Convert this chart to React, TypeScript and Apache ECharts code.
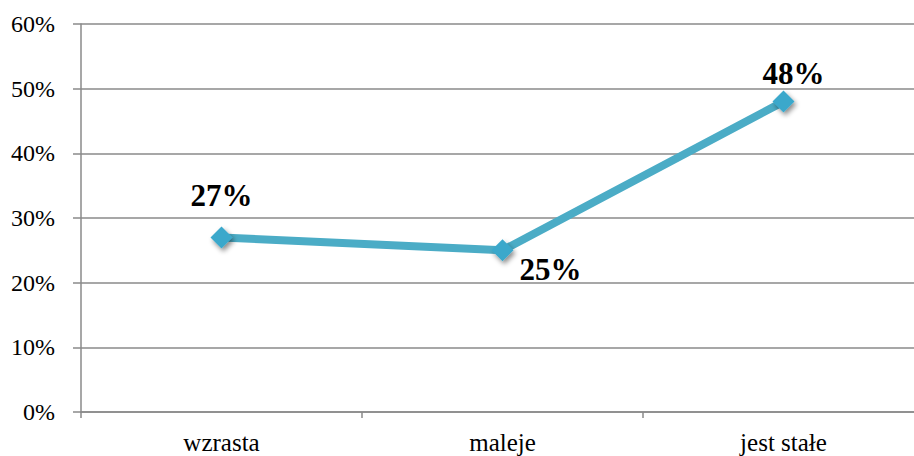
import React, { useEffect, useRef } from "react";
import * as echarts from "echarts";

const categories = ["wzrasta", "maleje", "jest stałe"];
const values = [27, 25, 48];
const labelOffsets: [number, number][] = [[0, -42], [48, 19], [10, -28]];
const yTicks = [0, 10, 20, 30, 40, 50, 60];

export default function App() {
  const ref = useRef<HTMLDivElement>(null);
  useEffect(() => {
    if (!ref.current) return;
    const chart = echarts.init(ref.current, null, { renderer: "svg" });
    const font = "Liberation Serif";
    chart.setOption({
      animation: false,
      grid: { left: 81, right: 0, top: 24, bottom: 44, containLabel: false },
      xAxis: {
        type: "category",
        data: categories,
        boundaryGap: true,
        axisLine: { show: true, lineStyle: { color: "#8a8a8a", width: 1.5 } },
        axisTick: { show: true, length: 6, lineStyle: { color: "#8a8a8a", width: 1.5 } },
        axisLabel: { color: "#000", fontFamily: font, fontSize: 25, margin: 18 },
      },
      yAxis: {
        type: "value",
        min: yTicks[0],
        max: yTicks[yTicks.length - 1],
        interval: 10,
        axisLine: { show: true, lineStyle: { color: "#8a8a8a", width: 1.5 } },
        axisTick: { show: true, length: 8, lineStyle: { color: "#8a8a8a", width: 1.5 } },
        splitLine: { show: true, lineStyle: { color: "#8a8a8a", width: 1.5 } },
        axisLabel: {
          color: "#000",
          fontFamily: font,
          fontSize: 24,
          margin: 26,
          formatter: (v: number) => v + "%",
        },
      },
      series: [
        {
          type: "line",
          data: values.map((v, i) => ({
            value: v,
            label: { offset: labelOffsets[i] },
          })),
          lineStyle: { color: "#4BACC6", width: 8 },
          symbol: "diamond",
          symbolSize: 22,
          itemStyle: {
            color: "#3AA8CB",
            shadowColor: "rgba(0,0,0,0.45)",
            shadowBlur: 5,
            shadowOffsetX: 2,
            shadowOffsetY: 3,
          },
          label: {
            show: true,
            position: "inside",
            formatter: (p: any) => p.value + "%",
            color: "#000",
            fontFamily: font,
            fontWeight: "bold",
            fontSize: 31,
          },
          z: 3,
        },
      ],
    });
    return () => chart.dispose();
  }, []);
  return (
    <div style={{ position: "fixed", left: 0, top: 0, width: 914, height: 456, overflow: "hidden", background: "#fff" }}>
      <div ref={ref} style={{ width: 924, height: 456 }} />
    </div>
  );
}
